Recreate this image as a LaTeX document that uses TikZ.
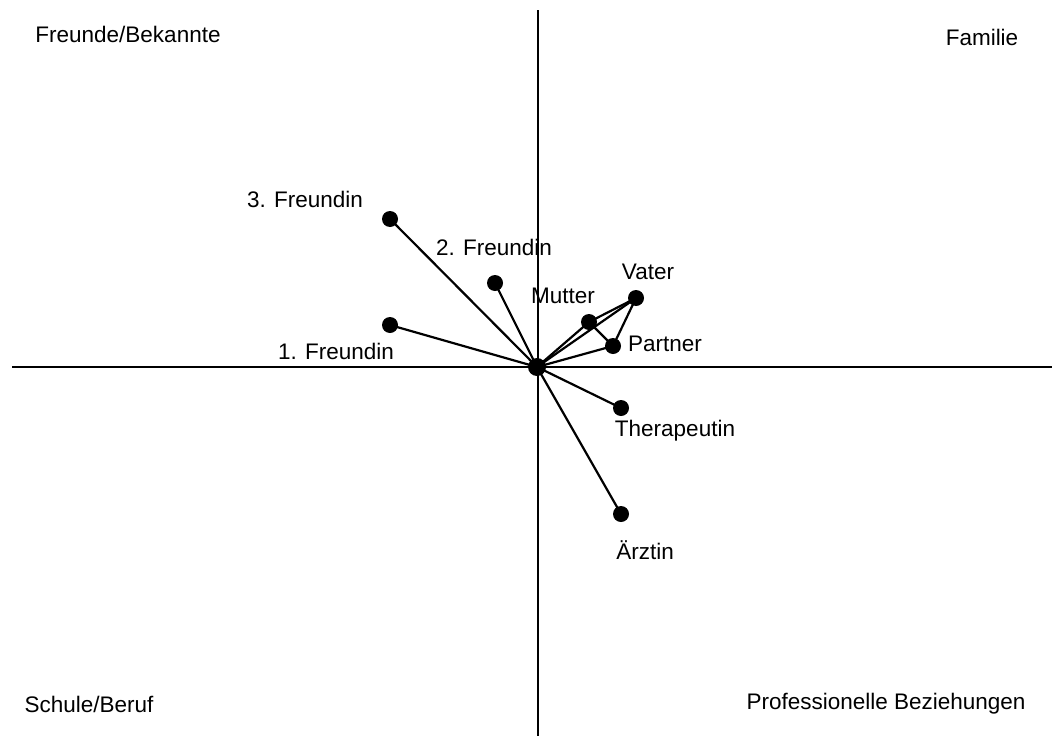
\documentclass[tikz,border=0pt]{standalone}
\usepackage{fontspec}
\setmainfont{Liberation Sans}
\begin{document}
\begin{tikzpicture}[x=1pt,y=-1pt,
  dot/.style={circle,fill=black,inner sep=0pt,minimum size=16pt},
  hub/.style={circle,fill=black,inner sep=0pt,minimum size=18pt},
  lbl/.style={inner sep=0pt,font=\fontsize{22.5}{26}\selectfont},
  edge/.style={line width=2.2pt},
  axis/.style={line width=2.2pt}]
\useasboundingbox (0,0) rectangle (1052,736);
% axes
\coordinate (vt) at (538,10);
\coordinate (vb) at (538,736);
\coordinate (hl) at (12,367);
\coordinate (hr) at (1052,367);
\draw[axis] (vt) -- (vb);
\draw[axis] (hl) -- (hr);
% nodes
\node[hub] (c) at (537,367) {};
\node[dot] (f3) at (390,219) {};
\node[dot] (f2) at (495,283) {};
\node[dot] (f1) at (390,325) {};
\node[dot] (mu) at (589,322) {};
\node[dot] (va) at (636,298) {};
\node[dot] (pa) at (613,346) {};
\node[dot] (th) at (621,408) {};
\node[dot] (ae) at (621,514) {};
% edges
\draw[edge] (c.center) -- (f3.center);
\draw[edge] (c.center) -- (f2.center);
\draw[edge] (c.center) -- (f1.center);
\draw[edge] (c.center) -- (mu.center);
\draw[edge] (c.center) -- (va.center);
\draw[edge] (c.center) -- (pa.center);
\draw[edge] (c.center) -- (th.center);
\draw[edge] (c.center) -- (ae.center);
\draw[edge] (mu.center) -- (va.center);
\draw[edge] (mu.center) -- (pa.center);
\draw[edge] (va.center) -- (pa.center);
% labels
\node[lbl] (lf3) at (305,199) {3. Freundin};
\node[lbl] (lf2) at (494,247) {2. Freundin};
\node[lbl] (lf1) at (336,351) {1. Freundin};
\node[lbl] (lmu) at (563,296) {Mutter};
\node[lbl] (lva) at (648,272) {Vater};
\node[lbl] (lpa) at (665,344) {Partner};
\node[lbl] (lth) at (675,431) {Therapeutin};
\node[lbl] (lae) at (645,550) {Ärztin};
\node[lbl] (q1) at (128,34) {Freunde/Bekannte};
\node[lbl] (q2) at (982,37) {Familie};
\node[lbl] (q3) at (89,704) {Schule/Beruf};
\node[lbl] (q4) at (886,704) {Professionelle Beziehungen};
\end{tikzpicture}
\end{document}
